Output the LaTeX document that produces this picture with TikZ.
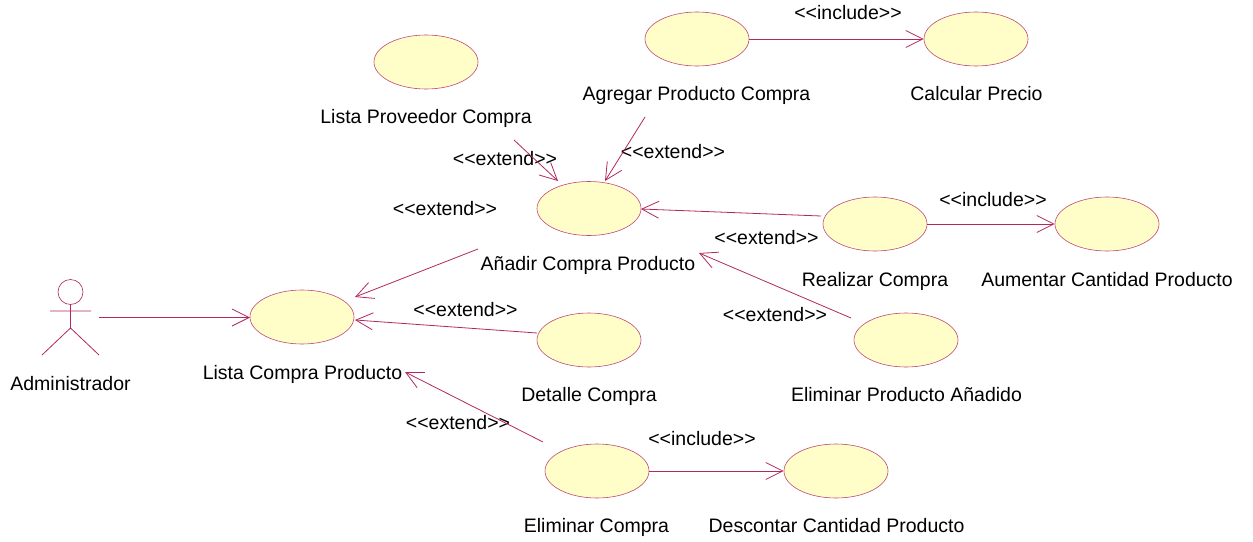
\documentclass[tikz,border=0pt]{standalone}
\usepackage{fontspec}
\setmainfont{Liberation Sans}
\usetikzlibrary{arrows.meta,shapes.geometric}
\definecolor{umlline}{RGB}{178,40,95}
\definecolor{umlfill}{RGB}{255,253,200}
\tikzset{
  usecase/.style={ellipse,draw=umlline!85!white,fill=umlfill,line width=0.6pt,minimum width=104pt,minimum height=54pt,inner sep=0pt},
  lbl/.style={font=\fontsize{19.5}{21}\selectfont,text=black,inner sep=0pt,anchor=base},
  conn/.style={draw=umlline,line width=0.8pt,-{Straight Barb[length=17pt,width=17pt,line width=0.8pt]}},
  actorline/.style={draw=umlline,line width=0.8pt}
}
\begin{document}
\begin{tikzpicture}[x=1pt,y=-1pt]
\useasboundingbox (0,0) rectangle (1253,541);
% use cases
\node[usecase] (prov) at (426,62) {};
\node[usecase] (agr) at (697,39) {};
\node[usecase] (calc) at (976,39) {};
\node[usecase] (anad) at (589,208.5) {};
\node[usecase] (real) at (875,224) {};
\node[usecase] (aum) at (1107,224) {};
\node[usecase] (lista) at (302,317) {};
\node[usecase] (det) at (589,340) {};
\node[usecase] (elimp) at (906,340) {};
\node[usecase] (elimc) at (597,471) {};
\node[usecase] (desc) at (836,471) {};
% labels
\node[lbl] (lprov) at (426,123) {Lista Proveedor Compra};
\node[lbl] (lagr) at (696.5,100) {Agregar Producto Compra};
\node[lbl] (lcalc) at (976.5,100) {Calcular Precio};
\node[lbl] (lanad) at (588,270) {Añadir Compra Producto};
\node[lbl] (lreal) at (875,286) {Realizar Compra};
\node[lbl] (laum) at (1107,286) {Aumentar Cantidad Producto};
\node[lbl] (llista) at (302.5,379) {Lista Compra Producto};
\node[lbl] (ldet) at (589,401) {Detalle Compra};
\node[lbl] (lelimp) at (906.5,401) {Eliminar Producto Añadido};
\node[lbl] (lelimc) at (596.5,532) {Eliminar Compra};
\node[lbl] (ldesc) at (836.5,532) {Descontar Cantidad Producto};
\node[lbl] (ladm) at (70.5,390) {Administrador};
% stereotypes
\node[lbl] (s1) at (848,19) {<{}<include>{}>};
\node[lbl] (s2) at (505,165) {<{}<extend>{}>};
\node[lbl] (s3) at (673,158) {<{}<extend>{}>};
\node[lbl] (s4) at (445,215) {<{}<extend>{}>};
\node[lbl] (s5) at (993,206) {<{}<include>{}>};
\node[lbl] (s6) at (766.5,244) {<{}<extend>{}>};
\node[lbl] (s7) at (465.5,316) {<{}<extend>{}>};
\node[lbl] (s8) at (775,321) {<{}<extend>{}>};
\node[lbl] (s9) at (458,429) {<{}<extend>{}>};
\node[lbl] (s10) at (702,445) {<{}<include>{}>};
% actor
\node[circle,draw=umlline,line width=0.6pt,minimum size=25pt,inner sep=0pt,fill=white] (head) at (70.5,292) {};
\coordinate (hip) at (70.5,328);
\coordinate (lfoot) at (42,355);
\coordinate (rfoot) at (99,355);
\coordinate (larm) at (50,311);
\coordinate (rarm) at (91,311);
\draw[actorline] (head.south) -- (hip) (lfoot) -- (hip) -- (rfoot) (larm) -- (rarm);
% free ends
\coordinate (a0) at (99,317.5);
\coordinate (a1) at (514,140);
\coordinate (a2) at (645,117);
\coordinate (a3) at (478,249);
\coordinate (a4) at (821,216);
\coordinate (a5) at (851,318);
\coordinate (a6) at (537,333);
\coordinate (a7) at (543,442);
\coordinate (t1) at (558,181);
\coordinate (t2) at (605,181);
\coordinate (t3) at (641,209);
\coordinate (t4) at (699,253);
\coordinate (t5) at (355,297);
\coordinate (t6) at (355,320);
\coordinate (t7) at (405,372);
\coordinate (t0) at (250,317.5);
% connectors
\draw[conn] (a0) -- (t0);
\draw[conn] (agr.east) -- (calc.west);
\draw[conn] (a1) -- (t1);
\draw[conn] (a2) -- (t2);
\draw[conn] (a4) -- (t3);
\draw[conn] (real.east) -- (aum.west);
\draw[conn] (a5) -- (t4);
\draw[conn] (a3) -- (t5);
\draw[conn] (a6) -- (t6);
\draw[conn] (a7) -- (t7);
\draw[conn] (elimc.east) -- (desc.west);
\end{tikzpicture}
\end{document}
